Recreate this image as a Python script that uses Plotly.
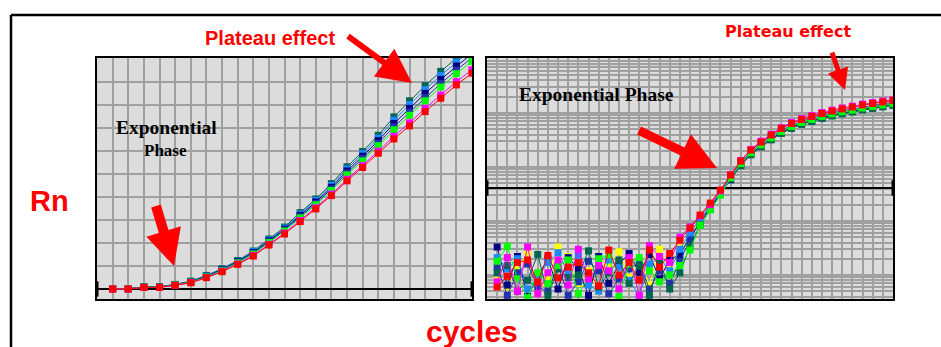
import plotly.graph_objects as go

W, H = 941, 347

# ---------------- linear view: Rn vs cycle (cycles 1-24) ----------------
lin_cycles = list(range(1, 25))
lin_red = [0.00, 0.00, 0.07, 0.07, 0.16, 0.27, 0.49, 0.75, 1.07, 1.43, 1.91, 2.39,
           2.93, 3.48, 4.06, 4.70, 5.28, 5.90, 6.52, 7.09, 7.71, 8.29, 8.87, 9.38]
lin_magenta = [0.00, 0.00, 0.07, 0.07, 0.16, 0.28, 0.50, 0.77, 1.09, 1.46, 1.94, 2.43,
               2.98, 3.53, 4.12, 4.77, 5.36, 5.99, 6.64, 7.22, 7.85, 8.43, 9.01, 9.53]
lin_green = [0.01, 0.01, 0.08, 0.08, 0.18, 0.30, 0.53, 0.80, 1.14, 1.52, 2.02, 2.52,
             3.09, 3.66, 4.28, 4.96, 5.57, 6.23, 6.92, 7.55, 8.18, 8.78, 9.36, 9.89]
lin_royal = [0.01, 0.01, 0.08, 0.09, 0.18, 0.31, 0.55, 0.82, 1.16, 1.55, 2.05, 2.56,
             3.14, 3.72, 4.35, 5.04, 5.67, 6.33, 7.05, 7.69, 8.33, 8.93, 9.51, 10.05]
lin_navy = [0.01, 0.01, 0.08, 0.09, 0.19, 0.32, 0.56, 0.84, 1.19, 1.58, 2.09, 2.60,
            3.20, 3.78, 4.42, 5.13, 5.77, 6.45, 7.19, 7.85, 8.50, 9.11, 9.69, 10.23]
lin_dodger = [0.02, 0.02, 0.09, 0.10, 0.19, 0.33, 0.58, 0.86, 1.21, 1.62, 2.13, 2.65,
              3.26, 3.85, 4.50, 5.22, 5.88, 6.56, 7.34, 8.02, 8.67, 9.28, 9.86, 10.42]
lin_teal = [0.02, 0.02, 0.09, 0.10, 0.20, 0.34, 0.59, 0.88, 1.24, 1.65, 2.17, 2.69,
            3.32, 3.91, 4.58, 5.31, 5.98, 6.68, 7.48, 8.18, 8.84, 9.46, 10.04, 10.60]
lin_baseline = 0.0

# ---------------- log view: delta Rn vs cycle (cycles 1-40) ----------------
log_cycles = list(range(1, 41))
log_red = [0.00060, 0.00095, 0.0017, 0.0019, 0.00074, 0.0023, 0.00088, 0.0014, 0.0017,
           0.0011, 0.00063, 0.0029, 0.0010, 0.0017, 0.00080, 0.0029, 0.0014, 0.0025,
           0.0044, 0.0074, 0.0129, 0.0215, 0.0375, 0.071, 0.129, 0.206, 0.290, 0.392,
           0.516, 0.639, 0.758, 0.861, 0.979, 1.09, 1.19, 1.29, 1.41, 1.50, 1.60, 1.70]
log_magenta = [0.00075, 0.0021, 0.00050, 0.0033, 0.00045, 0.0011, 0.0019, 0.00065, 0.0030,
               0.00085, 0.0015, 0.0012, 0.00055, 0.0021, 0.00042, 0.0035, 0.0022, 0.0017,
               0.0050, 0.0078, 0.0125, 0.020, 0.036, 0.072, 0.132, 0.212, 0.300, 0.405,
               0.535, 0.665, 0.790, 0.895, 1.02, 1.13, 1.24, 1.34, 1.46, 1.56, 1.66, 1.76]
log_yellow = [0.00080, 0.00060, 0.0013, 0.0026, 0.00045, 0.00090, 0.0033, 0.0022, 0.00070,
              0.0012, 0.00050, 0.0016, 0.0027, 0.00090, 0.0020, 0.00065, 0.0030, 0.0013,
              0.0032, 0.0058, 0.0105, 0.0185, 0.033, 0.064, 0.118, 0.188, 0.265, 0.356,
              0.468, 0.580, 0.688, 0.780, 0.888, 0.985, 1.08, 1.17, 1.28, 1.36, 1.45, 1.53]
log_green = [0.0018, 0.0034, 0.00085, 0.00038, 0.0011, 0.00070, 0.0015, 0.0019, 0.00045,
             0.00090, 0.0020, 0.0024, 0.00040, 0.0016, 0.0021, 0.0012, 0.00075, 0.0010,
             0.0015, 0.0029, 0.0083, 0.0160, 0.030, 0.063, 0.116, 0.184, 0.258, 0.347,
             0.455, 0.563, 0.668, 0.758, 0.862, 0.960, 1.05, 1.13, 1.24, 1.32, 1.41, 1.50]
log_teal = [0.0011, 0.0015, 0.00050, 0.00080, 0.0024, 0.00042, 0.0013, 0.00090, 0.0010,
            0.0028, 0.00060, 0.0011, 0.0019, 0.00070, 0.0015, 0.00042, 0.0018, 0.00055,
            0.0011, 0.0034, 0.0085, 0.0165, 0.031, 0.060, 0.106, 0.168, 0.236, 0.318,
            0.418, 0.518, 0.614, 0.697, 0.793, 0.883, 0.964, 1.045, 1.14, 1.215, 1.30, 1.38]
log_dodger = [0.0021, 0.0013, 0.0020, 0.00055, 0.00090, 0.0017, 0.0026, 0.0011, 0.0023,
              0.00065, 0.00050, 0.0019, 0.0014, 0.00080, 0.00042, 0.0016, 0.0021, 0.0012,
              0.0030, 0.0060, 0.0110, 0.019, 0.034, 0.064, 0.117, 0.186, 0.262, 0.352,
              0.462, 0.570, 0.675, 0.765, 0.870, 0.970, 1.06, 1.15, 1.25, 1.33, 1.42, 1.51]
log_navy = [0.0033, 0.00065, 0.0022, 0.00040, 0.00095, 0.0020, 0.00055, 0.0021, 0.0013,
            0.00042, 0.0022, 0.00070, 0.0016, 0.0025, 0.0011, 0.0024, 0.00085, 0.0019,
            0.0024, 0.0050, 0.0095, 0.0175, 0.031, 0.058, 0.108, 0.174, 0.245, 0.330,
            0.435, 0.540, 0.640, 0.725, 0.825, 0.915, 1.00, 1.085, 1.185, 1.26, 1.345, 1.43]
log_royal = [0.0014, 0.00042, 0.0011, 0.0016, 0.00060, 0.00050, 0.0015, 0.00042, 0.00075,
             0.0018, 0.0012, 0.00045, 0.00085, 0.0013, 0.0017, 0.00055, 0.0012, 0.00070,
             0.0018, 0.0045, 0.0100, 0.0185, 0.033, 0.066, 0.120, 0.190, 0.268, 0.362,
             0.477, 0.590, 0.700, 0.795, 0.905, 1.005, 1.10, 1.19, 1.30, 1.385, 1.475, 1.57]
log_threshold = 0.041

RED, MAG, YEL, GRN = "#ff0000", "#ff00ff", "#ffff00", "#00ff00"
TEAL, DODGER, NAVY, ROYAL = "#00664f", "#1e88ff", "#000080", "#2233aa"


def px(x, y):
    """Convert a pixel position on the canvas to paper coordinates."""
    return x / W, 1 - y / H


fig = go.Figure()

# baseline / threshold lines with end caps
fig.add_trace(go.Scatter(x=[0, 24], y=[lin_baseline, lin_baseline], mode="lines+markers",
                         line=dict(color="black", width=2),
                         marker=dict(symbol="line-ns-open", size=11, line=dict(color="black", width=3)),
                         cliponaxis=False, xaxis="x", yaxis="y", hoverinfo="skip"))
fig.add_trace(go.Scatter(x=[0, 40], y=[log_threshold, log_threshold], mode="lines+markers",
                         line=dict(color="black", width=2),
                         marker=dict(symbol="line-ns-open", size=11, line=dict(color="black", width=3)),
                         cliponaxis=False, xaxis="x2", yaxis="y2", hoverinfo="skip"))

lin_series = [(lin_teal, TEAL), (lin_dodger, DODGER), (lin_navy, NAVY), (lin_royal, ROYAL),
              (lin_green, GRN), (lin_magenta, MAG), (lin_red, RED)]
for vals, col in lin_series:
    fig.add_trace(go.Scatter(x=lin_cycles, y=vals, mode="lines+markers",
                             line=dict(color=col, width=1),
                             marker=dict(symbol="square", size=7, color=col),
                             xaxis="x", yaxis="y", hoverinfo="skip"))

log_series = [(log_yellow, YEL), (log_navy, NAVY), (log_royal, ROYAL), (log_dodger, DODGER),
              (log_teal, TEAL), (log_green, GRN), (log_magenta, MAG), (log_red, RED)]
for vals, col in log_series:
    fig.add_trace(go.Scatter(x=log_cycles, y=vals, mode="lines+markers",
                             line=dict(color=col, width=1),
                             marker=dict(symbol="square", size=7, color=col),
                             xaxis="x2", yaxis="y2", hoverinfo="skip"))

grid = "#a0a0a0"
common = dict(showticklabels=False, ticks="", showgrid=True, gridcolor=grid, gridwidth=1.5,
              zeroline=False, showline=True, linecolor="black", linewidth=2, mirror=True)

x0, _ = px(97, 0)
x1, _ = px(472, 0)
x2, _ = px(487, 0)
x3, _ = px(893, 0)
_, ytop = px(0, 58)
_, ybot = px(0, 299)

fig.update_layout(
    width=W, height=H, margin=dict(l=0, r=0, t=0, b=0),
    paper_bgcolor="white", plot_bgcolor="#dcdcdc", showlegend=False,
    xaxis=dict(domain=[x0, x1], range=[0, 24], dtick=1, tick0=0, anchor="y", **common),
    yaxis=dict(domain=[ybot, ytop], range=[-0.435, 10.04], dtick=1, tick0=0, anchor="x", **common),
    xaxis2=dict(domain=[x2, x3], range=[0, 40], dtick=1, tick0=0, anchor="y2", **common),
    yaxis2=dict(domain=[ybot, ytop], type="log", range=[-3.444, 1.0185], dtick="D1",
                anchor="x2", **common),
)

# outer frame
fx, fy = px(11, 15)
fig.add_shape(type="line", xref="paper", yref="paper", x0=fx, y0=fy, x1=1.0, y1=fy,
              line=dict(color="black", width=2.5))
fig.add_shape(type="line", xref="paper", yref="paper", x0=fx, y0=fy, x1=fx, y1=0,
              line=dict(color="black", width=2.5))

sans = "Liberation Sans, Arial, sans-serif"
serif = "Liberation Serif, Times New Roman, serif"


def label(text, x, y, size, color, family, bold=True):
    ax_, ay_ = px(x, y)
    fig.add_annotation(x=ax_, y=ay_, xref="paper", yref="paper", text=f"<b>{text}</b>" if bold else text,
                       showarrow=False, xanchor="center", yanchor="middle",
                       font=dict(size=size, color=color, family=family))


label("Rn", 49, 201, 29, RED, sans)
label("cycles", 472, 331, 30, RED, sans)
label("Plateau effect", 270, 38, 20, RED, sans)
label("Plateau effect", 788, 32, 16, RED, "DejaVu Sans, sans-serif")
label("Exponential", 166, 127, 19.5, "black", serif)
label("Phase", 165, 150, 17, "black", serif)
label("Exponential Phase", 596, 95, 19.5, "black", serif)


def arrow(tail, tip, width, size):
    tx, ty = px(*tip)
    fig.add_annotation(x=tx, y=ty, xref="paper", yref="paper", text=" ",
                       showarrow=True, arrowhead=2, arrowsize=size, arrowwidth=width,
                       arrowcolor=RED, ax=tail[0] - tip[0], ay=tail[1] - tip[1], standoff=0)


arrow((153, 196), (174, 266), 10, 0.72)
arrow((345, 34), (412, 83), 6, 1.15)
arrow((636, 129), (717, 168), 9, 0.85)
arrow((829, 44), (845, 90), 5, 0.85)

fig.write_html("out.html")
